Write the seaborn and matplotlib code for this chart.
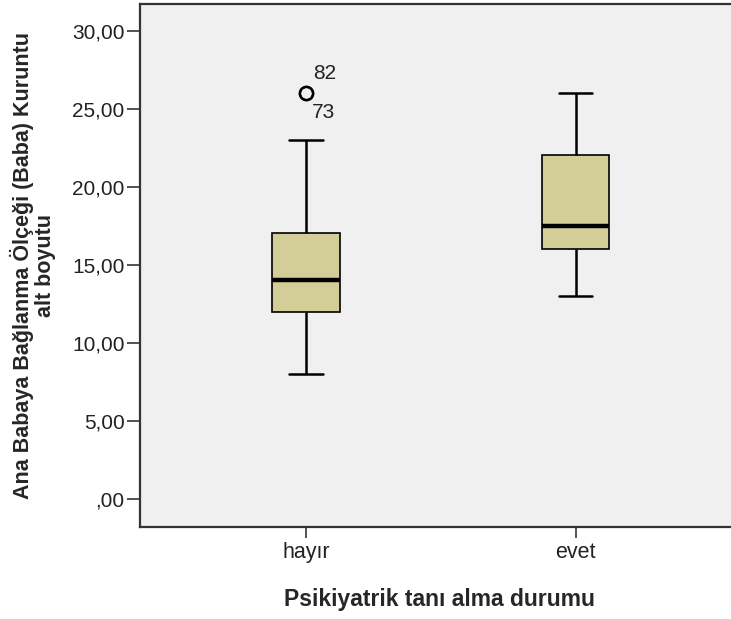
import numpy as np
import pandas as pd
import matplotlib
matplotlib.use("Agg")
import matplotlib.pyplot as plt
import seaborn as sns
from matplotlib.ticker import FuncFormatter

sns.set_style("white")
plt.rcParams['font.family'] = ['Liberation Sans', 'DejaVu Sans']

# values (five-number summaries, outliers repeated)
hayir = [8, 12, 12, 12, 14, 14, 14, 17, 17, 17, 23, 26, 26]
evet = [13, 16, 17.5, 22, 26]
groups = ['hayır', 'evet']
outlier_ids = ['82', '73']

df = pd.DataFrame({
    'grup': [groups[0]] * len(hayir) + [groups[1]] * len(evet),
    'deger': hayir + evet,
})

fig = plt.figure(figsize=(7.31, 6.19), dpi=100, facecolor='white')
ax = fig.add_axes([140/731, (619-527)/619, (740-140)/731, (527-4)/619])
ax.set_facecolor('#f0f0f0')

sns.boxplot(data=df, x='grup', y='deger', order=groups, ax=ax, width=0.25,
            color='#d3ce97', saturation=1, linewidth=1.6, whis=1.5,
            boxprops=dict(edgecolor='black', linewidth=1.2),
            medianprops=dict(color='black', linewidth=3.2),
            whiskerprops=dict(color='black', linewidth=1.8),
            capprops=dict(color='black', linewidth=1.8),
            flierprops=dict(marker='o', markersize=9.5, markerfacecolor='none',
                            markeredgecolor='black', markeredgewidth=1.7))

# outlier case labels
ax.annotate(outlier_ids[0], (0, 26), xytext=(5, 14), textcoords='offset points',
            fontsize=15, color='#222222', va='center')
ax.annotate(outlier_ids[1], (0, 26), xytext=(4, -14), textcoords='offset points',
            fontsize=15, color='#222222', va='center')

ax.set_xlim(-0.616, 1.61)
ax.set_ylim(-1.8, 31.7)
ax.set_yticks([0, 5, 10, 15, 20, 25, 30])
ax.yaxis.set_major_formatter(FuncFormatter(
    lambda v, p: ',00' if v == 0 else f'{v:.2f}'.replace('.', ',')))
ax.tick_params(axis='y', direction='out', length=9.5, width=1.2,
               color='#333333', labelsize=15, labelcolor='#222222', pad=1.5,
               left=True)
ax.tick_params(axis='x', direction='out', length=8, width=1.2,
               color='#333333', labelsize=15.5, labelcolor='#222222', pad=3,
               bottom=True)

for s in ['top', 'bottom', 'left']:
    ax.spines[s].set_color('#333333')
    ax.spines[s].set_linewidth(1.6)
ax.spines['right'].set_visible(False)

ax.set_xlabel('Psikiyatrik tanı alma durumu', fontsize=16.5, fontweight='bold',
              labelpad=18)
ax.set_ylabel('Ana Babaya Bağlanma Ölçeği (Baba) Kuruntu\nalt boyutu',
              fontsize=15.5, fontweight='bold', labelpad=12, linespacing=1.05)

fig.savefig('out.png', dpi=100, facecolor=fig.get_facecolor())
